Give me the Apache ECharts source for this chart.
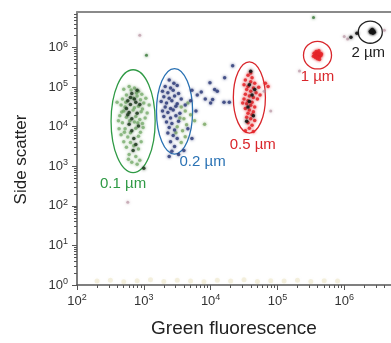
<!DOCTYPE html>
<html><head><meta charset="utf-8">
<script src="https://cdn.jsdelivr.net/npm/echarts@6/dist/echarts.min.js"></script>
<style>html,body{margin:0;padding:0;background:#fff}#c{width:391px;height:343px}</style>
</head><body><div id="c"></div><script>
// All values are log10 exponents of (green fluorescence, side scatter)
const xTickExponents = [2, 3, 4, 5, 6];
const yTickExponents = [0, 1, 2, 3, 4, 5, 6];
const xRange = [2, 6.7];
const yRange = [0, 6.9];

const greenLight = [[2.70,4.95],[2.78,5.02],[2.86,4.98],[2.92,4.90],[2.74,4.80],[2.90,4.78],[2.97,4.82],[2.68,4.70],[2.84,4.72],[2.95,4.68],[3.00,4.60],[2.66,4.55],[2.72,4.50],[2.86,4.48],[2.92,4.52],[2.98,4.45],[2.70,4.40],[2.84,4.42],[2.96,4.38],[2.64,4.28],[2.74,4.24],[2.88,4.26],[2.94,4.18],[3.02,4.22],[2.68,4.10],[2.86,4.12],[2.98,4.08],[2.72,3.95],[2.88,3.96],[2.95,3.86],[2.66,3.80],[2.76,3.74],[2.92,3.76],[2.80,3.60],[2.96,3.62],[2.74,3.48],[2.92,3.44],[2.78,3.30],[2.88,3.25],[2.94,3.15],[2.82,3.10],[2.90,3.05],[2.60,4.62],[2.62,4.15],[3.05,4.35],[3.08,4.55],[2.80,3.85],[2.70,3.62],
  [2.73,4.62],[2.81,4.93],[2.89,4.85],[2.67,4.37],[2.79,4.15],[2.91,4.10],[2.85,3.52],[2.71,3.86],[2.99,3.98],[2.77,3.18],[2.63,3.95],[3.03,4.72]];
const greenDark = [[2.82,4.84],[2.76,4.66],[2.88,4.62],[2.80,4.56],[2.78,4.36],[2.90,4.34],[2.82,4.20],[2.78,4.06],[2.92,4.02],[2.82,3.90],[2.85,3.70],[2.88,3.55],[2.84,3.40],[3.00,2.95],[2.94,4.56],[2.76,4.30],[2.86,4.70],[2.74,4.46],[2.90,4.92],[2.80,4.74]];
const navy = [[3.38,5.18],[3.45,5.10],[3.32,5.02],[3.40,4.98],[3.50,5.04],[3.28,4.90],[3.36,4.86],[3.44,4.92],[3.52,4.84],[3.30,4.76],[3.38,4.72],[3.46,4.78],[3.56,4.70],[3.26,4.64],[3.34,4.60],[3.42,4.66],[3.50,4.58],[3.32,4.50],[3.40,4.46],[3.48,4.52],[3.28,4.40],[3.36,4.36],[3.44,4.42],[3.54,4.34],[3.30,4.26],[3.40,4.22],[3.48,4.28],[3.34,4.12],[3.42,4.08],[3.52,4.14],[3.38,3.98],[3.46,3.92],[3.36,3.84],[3.44,3.78],[3.50,3.70],[3.40,3.62],[3.46,3.50],[3.42,3.38],[3.38,3.25],[3.72,4.92],[3.80,4.80],[3.86,4.88],[3.70,4.66],[3.92,4.70],[3.62,4.55],[4.00,4.60],[3.78,4.40],[3.66,3.95],[3.60,3.40],[3.72,3.70],[4.10,4.90],[4.20,4.62],[3.52,3.30],[3.99,5.11],[4.06,4.94],[4.03,4.69],[4.21,5.24],[4.33,5.54],[4.28,4.62]];
const greenInBlue = [[3.56,4.50],[3.62,4.40],[3.60,4.20],[3.64,4.05],[3.58,3.90],[3.50,4.00],[3.66,4.60],[3.54,4.22],[3.70,4.30],[3.48,3.85],[3.62,3.75],[3.56,3.60],[3.91,4.06],[3.76,4.15]];
const redPoints = [[4.56,5.30],[4.62,5.24],[4.52,5.18],[4.60,5.14],[4.66,5.10],[4.50,5.06],[4.56,5.02],[4.64,4.98],[4.54,4.94],[4.60,4.90],[4.68,4.86],[4.52,4.82],[4.58,4.78],[4.64,4.74],[4.50,4.70],[4.56,4.66],[4.62,4.62],[4.54,4.58],[4.60,4.54],[4.66,4.50],[4.52,4.46],[4.58,4.42],[4.64,4.38],[4.56,4.34],[4.62,4.30],[4.54,4.24],[4.60,4.20],[4.66,4.16],[4.56,4.10],[4.62,4.04],[4.58,3.96],[4.52,3.90],[4.64,3.88],[4.60,5.36],[4.70,4.70],[4.48,4.60],[4.72,5.00],[4.82,5.10],[4.86,5.02],[4.74,4.80],
  [5.58,5.84],[5.62,5.82],[5.60,5.78],[5.56,5.80],[5.64,5.86],[5.60,5.88],[5.57,5.75],[5.63,5.76],[5.59,5.82],[5.61,5.80],[5.55,5.86],[5.65,5.80],[5.60,5.72],[5.58,5.90],[5.62,5.92],[5.54,5.78],[5.66,5.84],[5.61,5.85],[5.59,5.77],[5.63,5.70]];
const blackPoints = [[4.60,5.40],[4.58,5.06],[4.62,4.80],[4.56,4.50],[4.64,4.28],[4.58,4.64],[4.54,4.14],[4.66,4.94],
  [6.42,6.40],[6.44,6.42],[6.40,6.38],[6.43,6.36],[6.41,6.44],[6.45,6.39],[6.39,6.41],[6.42,6.46],[6.10,6.26],[6.19,6.36]];
const strayPoints = [[2.94,6.31],[2.76,2.09],[5.33,5.41],[6.00,6.28],[6.05,6.22],[6.60,6.44],[4.90,4.40],[4.80,4.90]];
const strayGreen = [[3.04,5.81],[5.54,6.76]];
const baseBand = [[2.3,0.10],[2.5,0.12],[2.7,0.08],[2.9,0.11],[3.1,0.13],[3.3,0.09],[3.5,0.12],[3.7,0.10],[3.9,0.08],[4.1,0.12],[4.3,0.10],[4.5,0.13],[4.7,0.09],[4.9,0.11],[5.1,0.10],[5.3,0.12],[5.5,0.09],[5.7,0.11],[5.9,0.10]];

// Gates: [centreX, centreY, halfWidthX, halfHeightY] in log10 units
const gateNames = ['0.1 µm', '0.2 µm', '0.5 µm', '1 µm', '2 µm'];
const gateShapes = [[2.84,4.14,0.33,1.30],[3.46,4.39,0.27,1.08],[4.58,4.74,0.24,0.90],[5.60,5.81,0.21,0.35],[6.39,6.39,0.18,0.28]];
const gateLabelAt = [[2.69,2.56],[3.88,3.11],[4.63,3.54],[5.60,5.26],[6.36,5.86]];
const gateColors = ['#2f9a45', '#2a72b4', '#d9262b', '#d9262b', '#222222'];

function minorTicks(lo, hi) {
  const out = [];
  for (let n = Math.floor(lo); n < hi; n++) {
    for (let k = 2; k <= 9; k++) { const v = n + Math.log10(k); if (v > lo && v < hi) out.push(v); }
  }
  return out;
}
const FONT = '"Liberation Sans", Arial, sans-serif';
const powLabel = {
  formatter: v => '{b|10}{s|' + Math.round(v) + '}',
  rich: { b: { fontSize: 13, color: '#333', fontFamily: FONT, lineHeight: 16 },
          s: { fontSize: 9, color: '#333', fontFamily: FONT, verticalAlign: 'top', lineHeight: 10 } }
};
const axisCol = '#555';

const chart = echarts.init(document.getElementById('c'), null, { renderer: 'canvas' });
function sc(name, data, color, size, opacity) {
  return { name, type: 'scatter', data, symbolSize: size, silent: true,
           itemStyle: { color, opacity, shadowBlur: 3, shadowColor: color }, xAxisIndex: 0, yAxisIndex: 0 };
}
chart.setOption({
  animation: false,
  textStyle: { fontFamily: FONT },
  grid: { left: 77, top: 12, right: 0, bottom: 55.5 },
  xAxis: [
    { type: 'value', min: xRange[0], max: xRange[1], interval: 1, position: 'bottom',
      axisLine: { lineStyle: { color: axisCol, width: 1.5 } },
      axisTick: { length: 5, customValues: xTickExponents, lineStyle: { color: axisCol } },
      axisLabel: Object.assign({ margin: 8, customValues: xTickExponents }, powLabel),
      splitLine: { show: false },
      name: 'Green fluorescence', nameLocation: 'middle', nameGap: 34,
      nameTextStyle: { fontSize: 19, color: '#222', fontFamily: FONT } },
    { type: 'value', min: xRange[0], max: xRange[1], position: 'bottom',
      axisLine: { show: false }, axisLabel: { show: false }, splitLine: { show: false },
      axisTick: { length: 3, customValues: minorTicks(xRange[0], xRange[1]), lineStyle: { color: axisCol } } },
    { type: 'value', min: xRange[0], max: xRange[1], position: 'top',
      axisLine: { lineStyle: { color: '#8a8a8a', width: 2 } }, axisTick: { show: false },
      axisLabel: { show: false }, splitLine: { show: false } }
  ],
  yAxis: [
    { type: 'value', min: yRange[0], max: yRange[1], interval: 1, position: 'left',
      axisLine: { lineStyle: { color: axisCol, width: 1.5 } },
      axisTick: { length: 5, customValues: yTickExponents, lineStyle: { color: axisCol } },
      axisLabel: Object.assign({ margin: 9, customValues: yTickExponents }, powLabel),
      splitLine: { show: false },
      name: 'Side scatter', nameLocation: 'middle', nameGap: 47,
      nameTextStyle: { fontSize: 17, color: '#222', fontFamily: FONT, padding: [0, 22, 0, 0] } },
    { type: 'value', min: yRange[0], max: yRange[1], position: 'left',
      axisLine: { show: false }, axisLabel: { show: false }, splitLine: { show: false },
      axisTick: { length: 3, customValues: minorTicks(yRange[0], yRange[1]), lineStyle: { color: axisCol } } }
  ],
  series: [
    sc('band', baseBand, 'rgba(225,215,170,0.35)', 5, 1),
    sc('stray', strayPoints, '#b08a9a', 3, 0.6),
    sc('strayGreen', strayGreen, '#3c7a3c', 3, 0.8),
    sc('greenLight', greenLight, '#68a35c', 3.5, 0.65),
    sc('greenInBlue', greenInBlue, '#6a9c50', 3.5, 0.65),
    sc('greenDark', greenDark, '#1e3b1e', 3.5, 0.85),
    sc('navy', navy, '#2c3a78', 3.5, 0.8),
    sc('red', redPoints, '#e5262a', 3.5, 0.85),
    sc('black', blackPoints, '#151515', 3.5, 0.9)
  ]
});

const graphics = [];
gateShapes.forEach((g, i) => {
  const c = chart.convertToPixel({ gridIndex: 0 }, [g[0], g[1]]);
  const e = chart.convertToPixel({ gridIndex: 0 }, [g[0] + g[2], g[1] + g[3]]);
  graphics.push({ type: 'ellipse', silent: true,
    shape: { cx: c[0], cy: c[1], rx: Math.abs(e[0] - c[0]), ry: Math.abs(e[1] - c[1]) },
    style: { fill: 'none', stroke: gateColors[i], lineWidth: 1.3 } });
  const t = chart.convertToPixel({ gridIndex: 0 }, gateLabelAt[i]);
  graphics.push({ type: 'text', silent: true, x: t[0], y: t[1],
    style: { text: gateNames[i], fill: gateColors[i], fontSize: 15, fontFamily: FONT,
             align: 'center', verticalAlign: 'middle' } });
});
chart.setOption({ graphic: graphics });
</script></body></html>
